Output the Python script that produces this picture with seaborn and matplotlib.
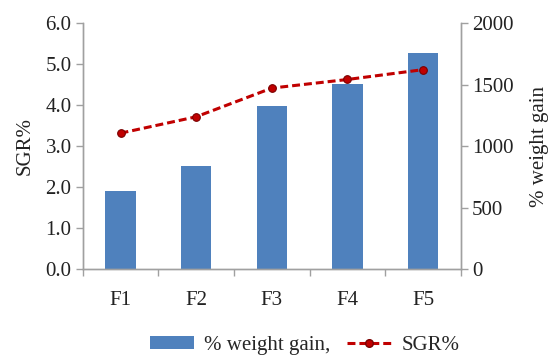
import matplotlib
matplotlib.use("Agg")
import matplotlib.pyplot as plt
from matplotlib.patches import Patch
from matplotlib.lines import Line2D
import seaborn as sns

groups = ["F1", "F2", "F3", "F4", "F5"]
weight_gain = [634, 840, 1328, 1504, 1759]
sgr = [3.32, 3.72, 4.42, 4.63, 4.87]

sns.set_theme(style="white")
plt.rcParams["font.family"] = ["Liberation Serif", "DejaVu Serif"]
fs = 15

bar_color = "#4F81BD"
line_color = "#C00000"
spine_grey = "#A0A0A0"
text_color = "#222222"
dash = (2.6, 1.3)

fig = plt.figure(figsize=(5.49, 3.59), dpi=100)
ax = fig.add_axes([0.1506, 0.25, 0.689, 0.685])
ax2 = ax.twinx()

sns.barplot(x=groups, y=weight_gain, ax=ax2, color=bar_color, width=0.4,
            saturation=1, edgecolor="none")
sns.pointplot(x=groups, y=sgr, ax=ax, color=line_color, linestyles="--",
              markers="o", markersize=5.5, linewidth=2.2,
              markeredgecolor="#7A0000", markeredgewidth=0.8)
for ln in ax.lines:
    ln.set_dashes(dash)

# line above the bars
ax.set_zorder(ax2.get_zorder() + 1)
ax.patch.set_visible(False)

ax.set_xlim(-0.5, 4.5)
ax.set_ylim(0, 6)
ax2.set_ylim(0, 2000)
ax.set_yticks([0, 1, 2, 3, 4, 5, 6])
ax.set_yticklabels([f"{v:.1f}" for v in range(7)])
ax2.set_yticks([0, 500, 1000, 1500, 2000])

ax.set_xticks(range(5))
ax.set_xticklabels(groups)
ax.set_xticks([i - 0.5 for i in range(6)], minor=True)
ax.tick_params(axis="x", which="major", length=0, pad=16, labelsize=fs, colors=text_color)
ax.tick_params(axis="x", which="minor", length=5, width=1, color=spine_grey, direction="out", bottom=True)
ax.tick_params(axis="y", length=5, width=1, color=spine_grey, direction="out", left=True,
               labelsize=fs, labelcolor=text_color, pad=3)
ax2.tick_params(axis="y", length=5, width=1, color=spine_grey, direction="out", right=True,
                labelsize=fs, labelcolor=text_color, pad=3)

ax.set_xlabel("")
ax.set_ylabel("SGR%", fontsize=fs, color=text_color, labelpad=8)
ax2.set_ylabel("% weight gain", fontsize=fs, color=text_color, labelpad=12)

for a in (ax, ax2):
    a.spines["top"].set_visible(False)
    for s in ("left", "right", "bottom"):
        a.spines[s].set_color(spine_grey)
        a.spines[s].set_linewidth(1)
    a.grid(False)

handles = [
    Patch(facecolor=bar_color, edgecolor="none"),
    Line2D([0], [0], color=line_color, dashes=dash, linewidth=2.2, marker="o",
           markersize=5.5, markerfacecolor=line_color, markeredgecolor="#7A0000"),
]
fig.legend(handles, ["% weight gain,", "SGR%"], loc="lower center", ncol=2,
           bbox_to_anchor=(0.555, -0.04), frameon=False, fontsize=fs,
           handlelength=2.1, handleheight=0.55, columnspacing=0.8, handletextpad=0.5)

fig.savefig("out.png", dpi=100)
